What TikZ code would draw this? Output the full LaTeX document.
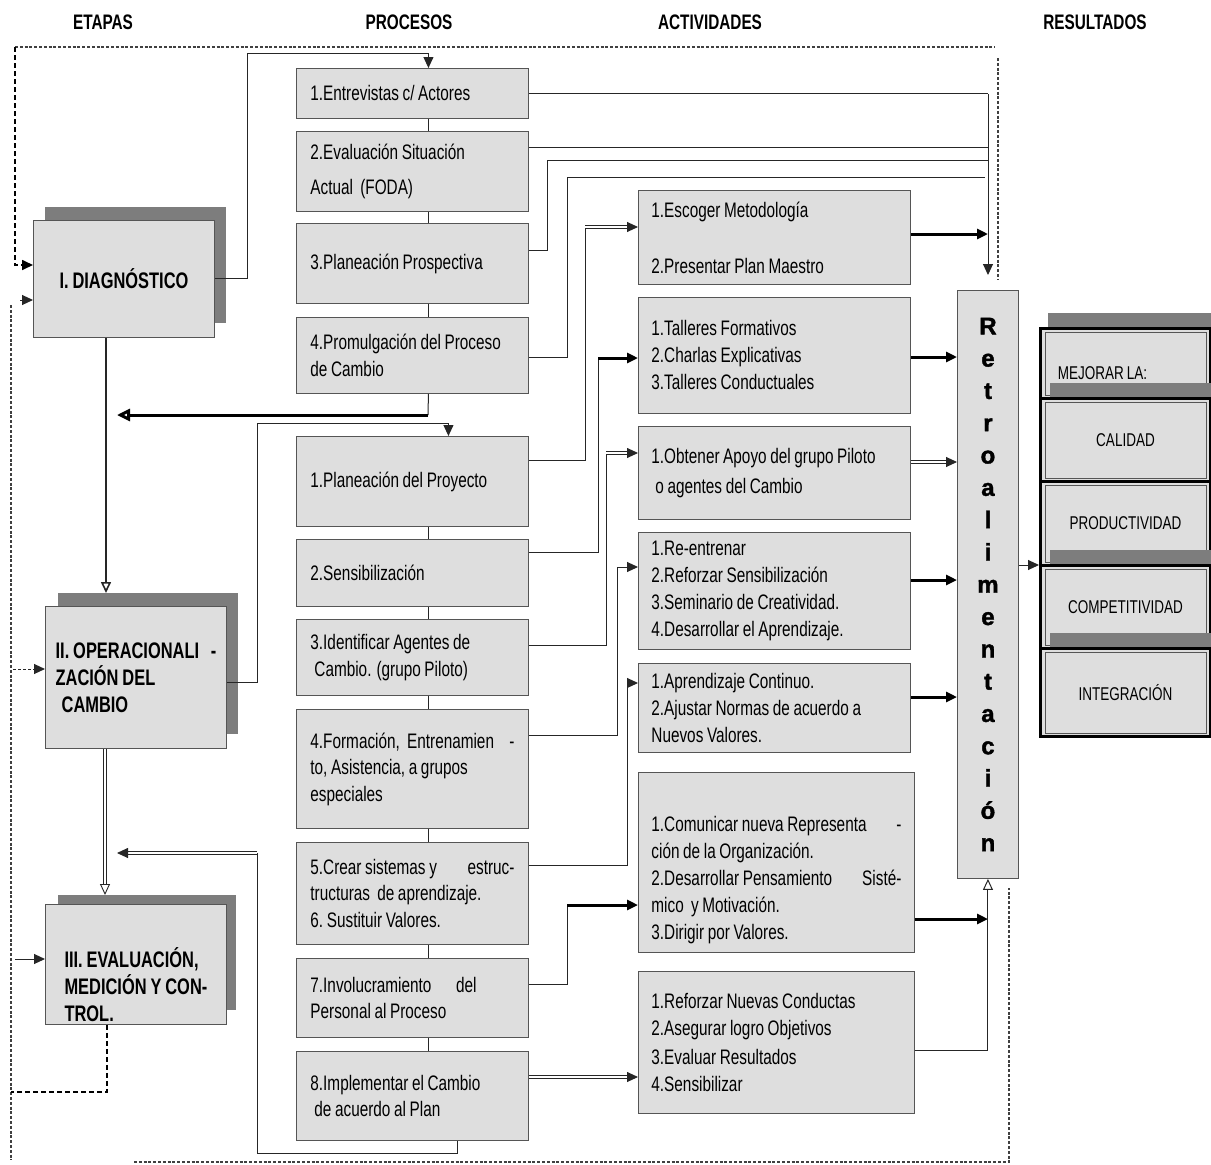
\documentclass[tikz,border=0pt]{standalone}
\usepackage{fontspec}
\setmainfont{Liberation Sans}[FakeStretch=0.73, WordSpace=0.85]
\newfontfamily\retfont{Liberation Sans}[FakeBold=1.6]
\usetikzlibrary{arrows.meta}
\definecolor{boxfill}{RGB}{222,222,222}
\definecolor{boxline}{RGB}{85,85,85}
\definecolor{shadowc}{RGB}{125,125,125}
\begin{document}
\begin{tikzpicture}[x=1pt,y=-1pt,
  hdr/.style={font=\bfseries\fontsize{21}{24}\selectfont, inner sep=0pt},
  pbox/.style={draw=boxline, fill=boxfill, line width=0.9pt, anchor=north west, align=flush left,
     inner xsep=14pt, inner ysep=2pt, text width=204pt, font=\fontsize{21}{26.5}\selectfont},
  abox/.style={draw=boxline, fill=boxfill, line width=0.9pt, anchor=north west, align=flush left,
     inner xsep=13pt, inner ysep=2pt, text width=246pt, font=\fontsize{21}{27}\selectfont},
  stage/.style={draw=boxline, fill=boxfill, line width=0.9pt, anchor=north west, align=left,
     inner sep=2pt, font=\bfseries\fontsize{22.5}{27}\selectfont},
  shad/.style={fill=shadowc, anchor=north west, inner sep=0pt},
  rbox/.style={draw=boxline, fill=boxfill, line width=0.9pt, anchor=north west, align=center,
     minimum width=61pt, minimum height=588pt, inner sep=2pt, font=\retfont\bfseries\fontsize{24}{32.3}\selectfont},
  res/.style={draw=black, line width=3pt, fill=boxfill, anchor=north west, minimum width=170pt,
     font=\fontsize{18.5}{20}\selectfont},
  conn/.style={line width=1pt, draw=black!85},
  arr/.style={-{Triangle[length=11pt,width=10pt]}},
  oarr/.style={-{Triangle[open,length=11pt,width=10pt]}},
  thickc/.style={line width=3pt, draw=black},
  dbl/.style={draw=black!85, double=white, double distance=1.8pt, line width=0.9pt},
  fb/.style={draw=black!75, line width=1.6pt, dash pattern=on 3pt off 1.8pt},
  dsh/.style={draw=black, line width=1.7pt, dash pattern=on 5pt off 3pt},
]
\useasboundingbox (0,0) rectangle (1211,1165);

% headers
\node[hdr] (hE) at (103,22) {ETAPAS};
\node[hdr] (hP) at (409,22) {PROCESOS};
\node[hdr] (hA) at (710,22) {ACTIVIDADES};
\node[hdr] (hR) at (1095,22) {RESULTADOS};

% feedback borders
\draw[fb] (15,47) -- (995,47);
\draw[fb] (998,58) -- (998,280);
\draw[fb] (11,305) -- (11,1160);
\draw[fb] (134,1162) -- (1009,1162) -- (1009,888);

% stages
\node[shad, minimum width=181pt, minimum height=116pt] (DIAGs) at (45,207) {};
\node[stage, minimum width=181pt, minimum height=117pt] (DIAG) at (33,220) {I. DIAGNÓSTICO};
\node[shad, minimum width=180pt, minimum height=141pt] (OPERs) at (58,593) {};
\node[stage, minimum width=181pt, minimum height=142pt] (OPER) at (45,606)
  {II. OPERACIONALI\ \ \ -\\ZACIÓN DEL\\\hspace*{6pt}CAMBIO};
\node[shad, minimum width=178pt, minimum height=115pt] (EVALs) at (58,895) {};
\node[stage, minimum width=181pt, minimum height=120pt] (EVAL) at (45,904)
  {\rule{0pt}{60pt}III. EVALUACIÓN,\\MEDICIÓN Y CON-\\TROL.};

% processes
\node[pbox, minimum height=50pt] (P1) at (296,68) {1.Entrevistas c/ Actores};
\node[pbox, minimum height=80pt] (P2) at (296,131) {2.Evaluación Situación\\[8pt]Actual\ \ (FODA)};
\node[pbox, minimum height=80pt] (P3) at (296,223) {3.Planeación Prospectiva};
\node[pbox, minimum height=76pt] (P4) at (296,317) {4.Promulgación del Proceso\\de Cambio};
\node[pbox, minimum height=90pt] (P5) at (296,436) {1.Planeación del Proyecto};
\node[pbox, minimum height=67pt] (P6) at (296,539) {2.Sensibilización};
\node[pbox, minimum height=76pt] (P7) at (296,619) {3.Identificar Agentes de\\\hspace*{4pt}Cambio. (grupo Piloto)};
\node[pbox, minimum height=119pt] (P8) at (296,709) {4.Formación,\ \ Entrenamien\hfill-\\to, Asistencia, a grupos\\especiales};
\node[pbox, minimum height=102pt] (P9) at (296,842) {5.Crear sistemas y\hfill estruc-\\tructuras\ \ de aprendizaje.\\6.\ Sustituir Valores.};
\node[pbox, minimum height=79pt] (P10) at (296,958) {7.Involucramiento\quad\ del\\Personal al Proceso};
\node[pbox, minimum height=89pt] (P11) at (296,1051) {8.Implementar el Cambio\\\hspace*{4pt}de acuerdo al Plan};

% activities
\node[abox, minimum height=94pt] (A1) at (638,190) {1.Escoger Metodología\\[29pt]2.Presentar Plan Maestro};
\node[abox, minimum height=116pt] (A2) at (638,297) {1.Talleres Formativos\\2.Charlas Explicativas\\3.Talleres Conductuales};
\node[abox, minimum height=93pt] (A3) at (638,426) {1.Obtener Apoyo del grupo Piloto\\[3pt]\hspace*{4pt}o agentes del Cambio};
\node[abox, minimum height=117pt] (A4) at (638,532) {1.Re-entrenar\\2.Reforzar Sensibilización\\3.Seminario de Creatividad.\\4.Desarrollar el Aprendizaje.};
\node[abox, minimum height=89pt] (A5) at (638,663) {1.Aprendizaje Continuo.\\2.Ajustar Normas de acuerdo a\\Nuevos Valores.};
\node[abox, text width=250pt, minimum height=180pt] (A6) at (638,772)
  {\rule{0pt}{51pt}1.Comunicar nueva Representa\hfill-\\ción de la Organización.\\2.Desarrollar Pensamiento\hfill Sisté-\\mico\ \ y Motivación.\\3.Dirigir por Valores.};
\node[abox, text width=250pt, minimum height=142pt] (A7) at (638,971) {1.Reforzar Nuevas Conductas\\2.Asegurar logro Objetivos\\[2pt]3.Evaluar Resultados\\4.Sensibilizar};

% retroalimentacion
\node[rbox] (RT) at (957,290) {R\\e\\t\\r\\o\\a\\l\\i\\m\\e\\n\\t\\a\\c\\i\\ó\\n};

% results
\fill[shadowc] (1048,313) rectangle (1211,327);
\node[res, minimum height=70pt] (R0) at (1039,327) {\raisebox{-16pt}[0pt][0pt]{MEJORAR LA:}\hspace*{46pt}};
\draw[boxline, line width=0.8pt] ([shift={(6pt,-5pt)}]R0.north west) rectangle ([shift={(-6pt,5pt)}]R0.south east);
\fill[shadowc] (1050,383) rectangle (1211,397);
\node[res, minimum height=83pt] (R1) at (1039,397) {CALIDAD};
\draw[boxline, line width=0.8pt] ([shift={(6pt,-5pt)}]R1.north west) rectangle ([shift={(-6pt,5pt)}]R1.south east);
\node[res, minimum height=84pt] (R2) at (1039,480) {PRODUCTIVIDAD};
\draw[boxline, line width=0.8pt] ([shift={(6pt,-5pt)}]R2.north west) rectangle ([shift={(-6pt,5pt)}]R2.south east);
\fill[shadowc] (1050,550) rectangle (1211,564);
\node[res, minimum height=83pt] (R3) at (1039,564) {COMPETITIVIDAD};
\draw[boxline, line width=0.8pt] ([shift={(6pt,-5pt)}]R3.north west) rectangle ([shift={(-6pt,5pt)}]R3.south east);
\fill[shadowc] (1050,633) rectangle (1211,647);
\node[res, minimum height=88pt] (R4) at (1039,647) {INTEGRACIÓN};
\draw[boxline, line width=0.8pt] ([shift={(6pt,-5pt)}]R4.north west) rectangle ([shift={(-6pt,5pt)}]R4.south east);

% free-end coordinates
\coordinate (vt) at (988,94);
\coordinate (vb) at (988,275);
\coordinate (k1) at (428,415);
\coordinate (f1) at (117,415);
\coordinate (f2) at (117,853);

% left-side connectors
\draw[dsh, arr] (15,47) -- (15,265) -- (DIAG.west |- 0,265);
\draw[conn, arr] (20,300) -- (DIAG.west |- 0,300);
\draw[conn, dash pattern=on 3pt off 2pt, arr] (13,669) -- (OPER.west |- 0,669);
\draw[conn, arr] (15,959) -- (EVAL.west |- 0,959);
\draw[dsh] (EVAL.south -| 107,0) |- (11,1092);

\draw[line width=1.6pt, draw=black!85, oarr] (DIAG.south -| 106,0) -- (OPERs.north -| 106,0);
\draw[dbl, oarr] (OPER.south -| 105,0) -- (EVALs.north -| 105,0);

\draw[conn, arr] (DIAG.east) -| (247,53) -| ([xshift=16pt]P1.north);
\foreach \a/\b in {P1/P2,P2/P3,P3/P4,P5/P6,P6/P7,P7/P8,P8/P9,P9/P10,P10/P11}
  \draw[conn] ([xshift=16pt]\a.south) -- ([xshift=16pt]\b.north);
\draw[conn] ([xshift=16pt]P4.south) -- (k1);
\draw[line width=3pt, -{Triangle[open,length=13pt,width=12pt]}] (k1) -- (f1);
\draw[conn, arr] (OPER.east |- 0,682) -| (257,423) -| ([xshift=36pt]P5.north);
\draw[conn] ([xshift=45pt]P11.south) |- (257,1153) -- (257,853);
\draw[dbl, arr] (257,853) -- (f2);

% process -> feedback line
\draw[conn] (P1.east) -- (P1.east -| vt);
\draw[conn] (P2.east |- 0,147) -- (vt |- 0,147);
\draw[conn] (P3.east |- 0,250) -| (547,160) -- (vt |- 0,160);
\draw[conn] (P4.east |- 0,357) -| (567,177) -- (985,177);
\draw[conn, arr] (vt) -- (vb);

% process -> activities
\draw[conn] (P5.east |- 0,460) -| (585,227);
\draw[dbl, arr] (585,227) -- (A1.west |- 0,227);
\draw[conn] (P6.east |- 0,552) -| (598,358);
\draw[thickc, arr] (598,358) -- (A2.west |- 0,358);
\draw[conn] (P7.east |- 0,645) -| (606,453);
\draw[dbl, arr] (606,453) -- (A3.west |- 0,453);
\draw[conn, arr] (P8.east |- 0,735) -| (617,567) -- (A4.west |- 0,567);
\draw[conn, arr] (P9.east |- 0,865) -| (627,683) -- (A5.west |- 0,683);
\draw[conn] (P10.east |- 0,984) -| (567,905);
\draw[thickc, arr] (567,905) -- (A6.west |- 0,905);
\draw[dbl, arr] (P11.east |- 0,1077) -- (A7.west |- 0,1077);

% activities -> retroalimentacion
\draw[thickc, arr] (A1.east |- 0,234) -- (vt |- 0,234);
\draw[thickc, arr] (A2.east |- 0,357) -- (RT.west |- 0,357);
\draw[dbl, arr] (A3.east |- 0,462) -- (RT.west |- 0,462);
\draw[thickc, arr] (A4.east |- 0,580) -- (RT.west |- 0,580);
\draw[thickc, arr] (A5.east |- 0,697) -- (RT.west |- 0,697);
\draw[thickc, arr] (A6.east |- 0,919) -- (988,919);
\draw[conn, oarr] (A7.east |- 0,1050) -| (RT.south);
\draw[conn, arr] (RT.east |- 0,565) -- (R3.west |- 0,565);
\end{tikzpicture}
\end{document}
